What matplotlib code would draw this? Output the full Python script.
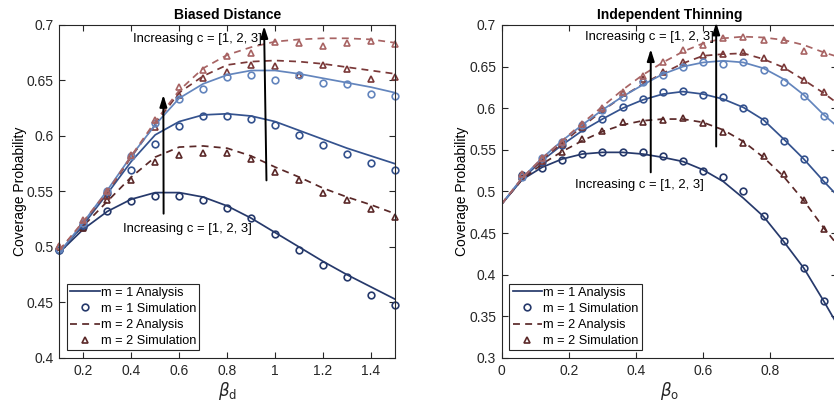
import matplotlib
matplotlib.use("Agg")
import matplotlib.pyplot as plt

plt.rcParams['font.family'] = ['Liberation Sans', 'DejaVu Sans']
plt.rcParams['mathtext.fontset'] = 'dejavusans'

# ---- Biased distance (left) ----
beta_d = [0.1, 0.2, 0.3, 0.4, 0.5, 0.6, 0.7, 0.8, 0.9, 1.0, 1.1, 1.2, 1.3, 1.4, 1.5]

bd_m1_ana_c1 = [0.495, 0.516, 0.532, 0.543, 0.549, 0.549, 0.545, 0.537, 0.526, 0.513, 0.500, 0.487, 0.475, 0.464, 0.453]
bd_m1_ana_c2 = [0.495, 0.520, 0.548, 0.577, 0.601, 0.613, 0.619, 0.620, 0.618, 0.613, 0.605, 0.597, 0.589, 0.582, 0.575]
bd_m1_ana_c3 = [0.495, 0.522, 0.551, 0.582, 0.610, 0.634, 0.647, 0.655, 0.659, 0.659, 0.656, 0.652, 0.648, 0.644, 0.639]

bd_m1_sim_c1 = [0.497, 0.518, 0.532, 0.541, 0.546, 0.546, 0.542, 0.535, 0.526, 0.512, 0.497, 0.484, 0.473, 0.457, 0.448]
bd_m1_sim_c2 = [0.497, 0.520, 0.549, 0.569, 0.593, 0.609, 0.618, 0.618, 0.615, 0.610, 0.601, 0.592, 0.584, 0.576, 0.569]
bd_m1_sim_c3 = [0.498, 0.522, 0.550, 0.582, 0.612, 0.633, 0.642, 0.653, 0.655, 0.650, 0.655, 0.648, 0.647, 0.638, 0.636]

bd_m2_ana_c1 = [0.497, 0.519, 0.541, 0.563, 0.581, 0.590, 0.591, 0.589, 0.582, 0.572, 0.563, 0.553, 0.545, 0.538, 0.530]
bd_m2_ana_c2 = [0.497, 0.522, 0.549, 0.581, 0.611, 0.639, 0.654, 0.664, 0.667, 0.668, 0.667, 0.665, 0.662, 0.659, 0.656]
bd_m2_ana_c3 = [0.497, 0.523, 0.550, 0.582, 0.613, 0.641, 0.661, 0.673, 0.680, 0.685, 0.687, 0.688, 0.688, 0.687, 0.684]

bd_m2_sim_c1 = [0.500, 0.517, 0.542, 0.560, 0.577, 0.583, 0.585, 0.585, 0.579, 0.568, 0.560, 0.549, 0.542, 0.534, 0.527]
bd_m2_sim_c2 = [0.500, 0.522, 0.546, 0.582, 0.608, 0.637, 0.652, 0.658, 0.664, 0.663, 0.655, 0.664, 0.660, 0.651, 0.653]
bd_m2_sim_c3 = [0.501, 0.524, 0.550, 0.583, 0.614, 0.644, 0.659, 0.672, 0.675, 0.685, 0.684, 0.681, 0.684, 0.686, 0.683]

# ---- Independent thinning (right) ----
beta_o_ana = [0.0, 0.06, 0.12, 0.18, 0.24, 0.30, 0.36, 0.42, 0.48, 0.54, 0.60, 0.66, 0.72, 0.78, 0.84, 0.90, 0.96, 1.0]
beta_o_sim = [0.06, 0.12, 0.18, 0.24, 0.30, 0.36, 0.42, 0.48, 0.54, 0.60, 0.66, 0.72, 0.78, 0.84, 0.90, 0.96]

it_m1_ana_c1 = [0.485, 0.514, 0.529, 0.539, 0.545, 0.547, 0.547, 0.545, 0.541, 0.536, 0.526, 0.512, 0.492, 0.470, 0.440, 0.408, 0.368, 0.340]
it_m1_ana_c2 = [0.485, 0.515, 0.537, 0.556, 0.573, 0.587, 0.600, 0.610, 0.617, 0.620, 0.617, 0.611, 0.601, 0.586, 0.563, 0.539, 0.512, 0.495]
it_m1_ana_c3 = [0.485, 0.516, 0.540, 0.561, 0.580, 0.598, 0.614, 0.628, 0.641, 0.650, 0.655, 0.657, 0.655, 0.648, 0.635, 0.616, 0.592, 0.578]

it_m1_sim_c1 = [0.520, 0.528, 0.538, 0.545, 0.548, 0.547, 0.547, 0.543, 0.537, 0.525, 0.518, 0.501, 0.470, 0.440, 0.408, 0.368]
it_m1_sim_c2 = [0.519, 0.536, 0.556, 0.576, 0.587, 0.601, 0.611, 0.619, 0.621, 0.616, 0.613, 0.600, 0.585, 0.561, 0.539, 0.514]
it_m1_sim_c3 = [0.518, 0.540, 0.560, 0.580, 0.598, 0.613, 0.631, 0.640, 0.649, 0.655, 0.653, 0.655, 0.646, 0.631, 0.615, 0.591]

it_m2_ana_c1 = [0.485, 0.514, 0.533, 0.548, 0.561, 0.572, 0.580, 0.585, 0.587, 0.587, 0.583, 0.574, 0.560, 0.541, 0.518, 0.489, 0.456, 0.436]
it_m2_ana_c2 = [0.485, 0.515, 0.538, 0.558, 0.578, 0.597, 0.614, 0.629, 0.642, 0.654, 0.663, 0.665, 0.666, 0.659, 0.649, 0.634, 0.618, 0.606]
it_m2_ana_c3 = [0.485, 0.516, 0.540, 0.561, 0.582, 0.602, 0.622, 0.640, 0.655, 0.668, 0.678, 0.684, 0.686, 0.685, 0.682, 0.676, 0.667, 0.662]

it_m2_sim_c1 = [0.518, 0.534, 0.548, 0.563, 0.573, 0.584, 0.583, 0.586, 0.588, 0.582, 0.571, 0.558, 0.543, 0.521, 0.490, 0.455]
it_m2_sim_c2 = [0.519, 0.537, 0.557, 0.578, 0.598, 0.618, 0.635, 0.644, 0.656, 0.664, 0.665, 0.667, 0.660, 0.650, 0.634, 0.619]
it_m2_sim_c3 = [0.521, 0.540, 0.559, 0.581, 0.600, 0.620, 0.639, 0.656, 0.670, 0.676, 0.684, 0.685, 0.682, 0.682, 0.669, 0.666]

blues = ['#26396b', '#34528e', '#6385bd']
reds = ['#5a2828', '#7a3838', '#a86464']
ANNOT = 'Increasing c = [1, 2, 3]'


def draw_panel(ax, x_ana, x_sim, m1_ana, m1_sim, m2_ana, m2_sim):
    for i in range(3):
        lab = i == 0
        ax.plot(x_ana, m1_ana[i], '-', color=blues[i], lw=1.25,
                label='m = 1 Analysis' if lab else None)
        ax.plot(x_sim, m1_sim[i], 'o', color=blues[i], mfc='none', ms=4.8, mew=1.2,
                clip_on=False, label='m = 1 Simulation' if lab else None)
        ax.plot(x_ana, m2_ana[i], '--', color=reds[i], lw=1.25, dashes=(4, 3),
                label='m = 2 Analysis' if lab else None)
        ax.plot(x_sim, m2_sim[i], '^', color=reds[i], mfc='none', ms=5, mew=1.2,
                clip_on=False, label='m = 2 Simulation' if lab else None)

    ax.tick_params(direction='in', top=True, right=True, labelsize=10,
                   length=4, width=0.8, colors='#262626', pad=4)
    for s in ax.spines.values():
        s.set_color('#262626')
        s.set_linewidth(0.8)
    ax.set_ylabel('Coverage Probability', fontsize=10, labelpad=0)
    leg = ax.legend(loc='lower left', fontsize=9.2, handlelength=2.3,
                    handletextpad=0.1, borderpad=0.25, labelspacing=0.32,
                    fancybox=False, framealpha=1, borderaxespad=0.6)
    leg.get_frame().set_edgecolor('#262626')
    leg.get_frame().set_linewidth(0.8)


def arrow(ax, x0, y0, x1, y1):
    ax.annotate('', xy=(x1, y1), xytext=(x0, y0), annotation_clip=False,
                arrowprops=dict(arrowstyle='-|>,head_length=0.7,head_width=0.22',
                                color='black', lw=1.4, shrinkA=0, shrinkB=0))


fig = plt.figure(figsize=(8.34, 4.03), dpi=100)

ax1 = fig.add_axes([0.0711, 0.1117, 0.4025, 0.8263])
draw_panel(ax1, beta_d, beta_d,
           [bd_m1_ana_c1, bd_m1_ana_c2, bd_m1_ana_c3],
           [bd_m1_sim_c1, bd_m1_sim_c2, bd_m1_sim_c3],
           [bd_m2_ana_c1, bd_m2_ana_c2, bd_m2_ana_c3],
           [bd_m2_sim_c1, bd_m2_sim_c2, bd_m2_sim_c3])
ax1.set_xlim(0.1, 1.5)
ax1.set_ylim(0.4, 0.7)
ax1.set_xticks([0.2, 0.4, 0.6, 0.8, 1.0, 1.2, 1.4])
ax1.set_xticklabels(['0.2', '0.4', '0.6', '0.8', '1', '1.2', '1.4'])
ax1.set_yticks([0.4, 0.45, 0.5, 0.55, 0.6, 0.65, 0.7])
ax1.set_yticklabels(['0.4', '0.45', '0.5', '0.55', '0.6', '0.65', '0.7'])
ax1.set_xlabel(r'$\beta_\mathrm{d}$', fontsize=12, color='#262626', labelpad=2)
ax1.set_title('Biased Distance', fontsize=10, fontweight='bold', pad=4)
arrow(ax1, 0.535, 0.530, 0.534, 0.637)
arrow(ax1, 0.964, 0.560, 0.954, 0.699)
ax1.text(0.364, 0.516, ANNOT, fontsize=9.4, va='center', ha='left')
ax1.text(0.408, 0.687, ANNOT, fontsize=9.4, va='center', ha='left')

ax2 = fig.add_axes([0.6016, 0.1117, 0.4024, 0.8263])
draw_panel(ax2, beta_o_ana, beta_o_sim,
           [it_m1_ana_c1, it_m1_ana_c2, it_m1_ana_c3],
           [it_m1_sim_c1, it_m1_sim_c2, it_m1_sim_c3],
           [it_m2_ana_c1, it_m2_ana_c2, it_m2_ana_c3],
           [it_m2_sim_c1, it_m2_sim_c2, it_m2_sim_c3])
ax2.set_xlim(0, 1)
ax2.set_ylim(0.3, 0.7)
ax2.set_xticks([0, 0.2, 0.4, 0.6, 0.8])
ax2.set_xticklabels(['0', '0.2', '0.4', '0.6', '0.8'])
ax2.set_yticks([0.3, 0.35, 0.4, 0.45, 0.5, 0.55, 0.6, 0.65, 0.7])
ax2.set_yticklabels(['0.3', '0.35', '0.4', '0.45', '0.5', '0.55', '0.6', '0.65', '0.7'])
ax2.set_xlabel(r'$\beta_\mathrm{o}$', fontsize=12, color='#262626', labelpad=2)
ax2.set_title('Independent Thinning', fontsize=10, fontweight='bold', pad=4)
arrow(ax2, 0.444, 0.523, 0.444, 0.671)
arrow(ax2, 0.639, 0.554, 0.639, 0.703)
ax2.text(0.248, 0.686, ANNOT, fontsize=9.4, va='center', ha='left')
ax2.text(0.218, 0.508, ANNOT, fontsize=9.4, va='center', ha='left')

fig.savefig('out.png', dpi=100)
